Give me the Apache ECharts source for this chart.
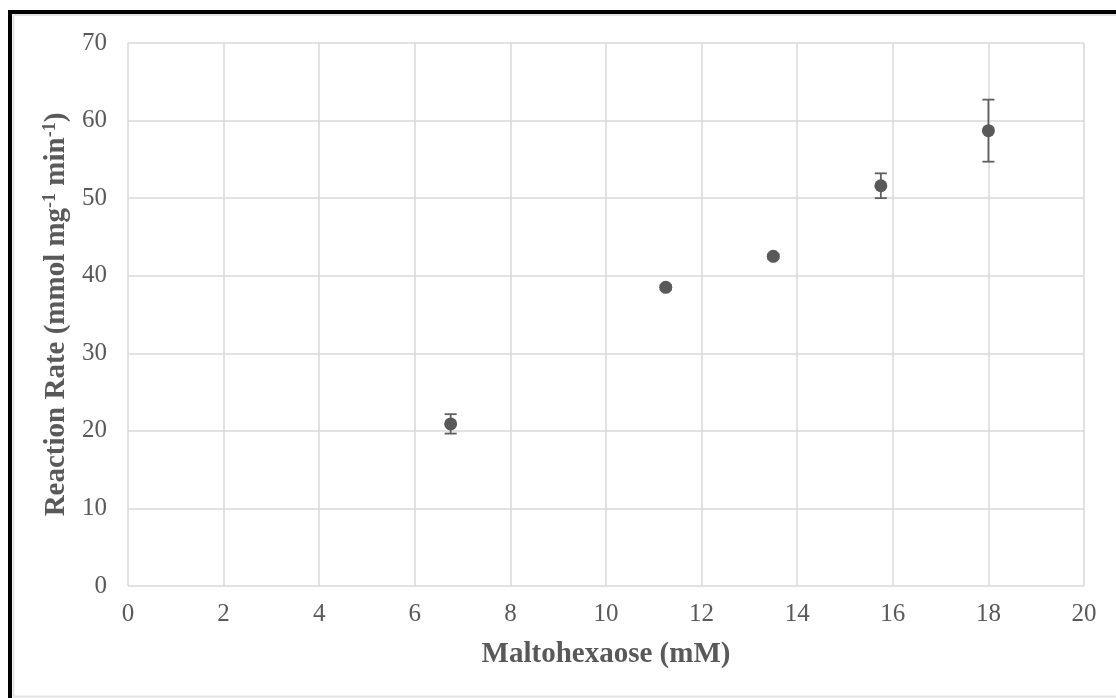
<!DOCTYPE html>
<html>
<head>
<meta charset="utf-8">
<script src="https://cdn.jsdelivr.net/npm/echarts@6/dist/echarts.min.js"></script>
<style>
  html, body { margin: 0; padding: 0; background: #fff; }
  #chart { width: 1116px; height: 698px; }
</style>
</head>
<body>
<div id="chart"></div>
<script>
// 数据
var concentration = [6.75, 11.25, 13.5, 15.75, 18];   // Maltohexaose (mM)
var rate = [20.9, 38.5, 42.5, 51.6, 58.7];            // mmol mg-1 min-1
var rateError = [1.25, 0.3, 0.3, 1.6, 4.0];           // 误差棒
var xTicks = [0, 20, 2];   // min, max, interval
var yTicks = [0, 70, 10];

var textColor = '#595959';
var font = '"Liberation Serif", "Times New Roman", serif';

var myChart = echarts.init(document.getElementById('chart'));

var points = concentration.map(function (x, i) { return [x, rate[i]]; });
var errs = concentration.map(function (x, i) { return [x, rate[i] - rateError[i], rate[i] + rateError[i]]; });

var option = {
  backgroundColor: '#fff',
  animation: false,
  grid: { left: 128, top: 43, right: 32, bottom: 112 },
  xAxis: {
    type: 'value',
    min: xTicks[0], max: xTicks[1], interval: xTicks[2],
    name: 'Maltohexaose (mM)',
    nameLocation: 'middle',
    nameGap: 54,
    nameTextStyle: { color: textColor, fontFamily: font, fontSize: 29, fontWeight: 'bold' },
    axisLine: { show: false },
    axisTick: { show: false },
    axisLabel: { color: textColor, fontFamily: font, fontSize: 25, margin: 16 },
    splitLine: { lineStyle: { color: '#d9d9d9', width: 1.5 } }
  },
  yAxis: {
    type: 'value',
    min: yTicks[0], max: yTicks[1], interval: yTicks[2],
    name: 'Reaction Rate (mmol mg{sup|-1} min{sup|-1})',
    nameLocation: 'middle',
    nameRotate: 90,
    nameGap: 52,
    nameTextStyle: {
      color: textColor, fontFamily: font, fontSize: 29, fontWeight: 'bold', lineHeight: 30,
      rich: {
        sup: { color: textColor, fontFamily: font, fontSize: 18, fontWeight: 'bold', lineHeight: 18, verticalAlign: 'top' }
      }
    },
    axisLine: { show: false },
    axisTick: { show: false },
    axisLabel: { color: textColor, fontFamily: font, fontSize: 25, margin: 21 },
    splitLine: { lineStyle: { color: '#d9d9d9', width: 1.5 } }
  },
  series: [
    {
      // 误差棒
      type: 'custom',
      data: errs,
      z: 2,
      renderItem: function (params, api) {
        var x = api.value(0);
        var lo = api.coord([x, api.value(1)]);
        var hi = api.coord([x, api.value(2)]);
        var w = 6;
        var style = { stroke: '#5f5f5f', lineWidth: 1.8 };
        return {
          type: 'group',
          children: [
            { type: 'line', shape: { x1: lo[0], y1: lo[1], x2: hi[0], y2: hi[1] }, style: style },
            { type: 'line', shape: { x1: lo[0] - w, y1: lo[1], x2: lo[0] + w, y2: lo[1] }, style: style },
            { type: 'line', shape: { x1: hi[0] - w, y1: hi[1], x2: hi[0] + w, y2: hi[1] }, style: style }
          ]
        };
      }
    },
    {
      type: 'scatter',
      data: points,
      z: 3,
      symbol: 'circle',
      symbolSize: 13,
      itemStyle: { color: '#595959', opacity: 1 }
    }
  ],
  graphic: [
    {
      type: 'rect',
      shape: { x: 13.5, y: 15, width: 1200, height: 681.5 },
      style: { fill: 'none', stroke: '#e4e4e4', lineWidth: 2 },
      silent: true
    },
    {
      type: 'rect',
      shape: { x: 10, y: 12, width: 1200, height: 800 },
      style: { fill: 'none', stroke: '#000', lineWidth: 4 },
      silent: true
    }
  ]
};

myChart.setOption(option);
window.addEventListener('resize', function () {
  myChart.resize();
});
</script>
</body>
</html>
